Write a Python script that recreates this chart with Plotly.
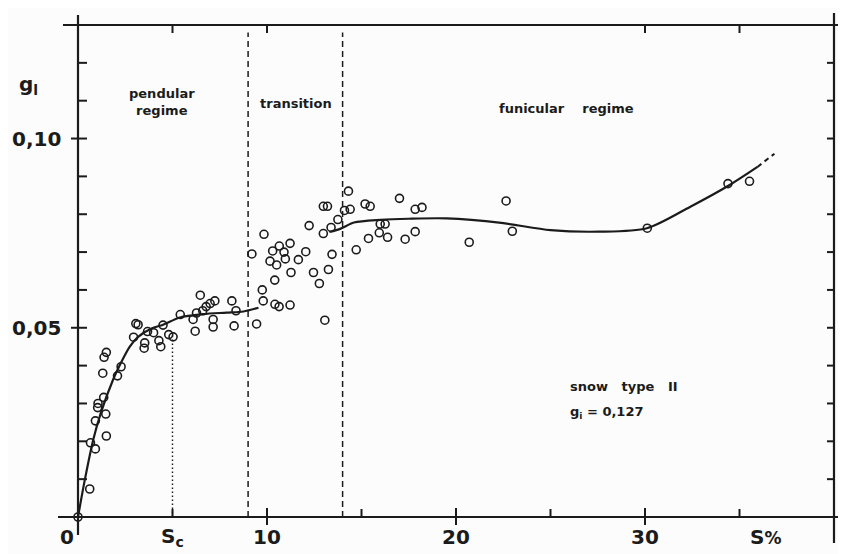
import plotly.graph_objects as go

# ---------------- data ----------------
pend_x = [0, 0.62, 0.66, 0.92, 0.92, 1.04, 1.06, 1.36, 1.47, 1.5, 1.31, 1.38, 1.5, 2.09, 2.28,
          2.94, 3.06, 3.18, 3.5, 3.53, 3.68, 4.0, 4.28, 4.38, 4.5, 4.8, 5.03, 5.41, 6.09, 6.2,
          6.27, 6.47, 6.6, 6.78, 6.99, 7.24, 7.15, 7.15, 8.14, 8.36, 8.26, 9.45]
pend_y = [0, 0.0074, 0.0196, 0.018, 0.0254, 0.0289, 0.030, 0.0316, 0.0272, 0.0214, 0.038, 0.0422, 0.0435, 0.0373, 0.0397,
          0.0475, 0.0511, 0.0508, 0.0446, 0.046, 0.049, 0.0487, 0.0466, 0.045, 0.0507, 0.0482, 0.0476, 0.0535, 0.0522, 0.0491,
          0.0539, 0.0586, 0.0545, 0.0556, 0.0564, 0.0571, 0.0522, 0.0502, 0.0571, 0.0545, 0.0505, 0.051]

trans_x = [9.2, 9.84, 9.75, 9.8, 10.42, 10.64, 11.22, 10.41, 10.16, 10.3, 10.51, 10.65, 10.9, 10.97,
           11.22, 11.27, 11.66, 12.05, 12.23, 12.46, 12.77, 13.06, 12.98, 12.98, 13.2, 13.25, 13.44, 13.39, 13.75]
trans_y = [0.0695, 0.0747, 0.060, 0.0571, 0.0562, 0.0556, 0.056, 0.0626, 0.0676, 0.0703, 0.0666, 0.0716, 0.070, 0.0682,
           0.0723, 0.0646, 0.068, 0.0701, 0.077, 0.0646, 0.0617, 0.052, 0.0749, 0.0821, 0.0821, 0.0654, 0.0694, 0.0765, 0.0786]

fun_x = [14.1, 14.4, 14.31, 14.72, 15.19, 15.46, 17.01, 17.84, 18.2, 15.99, 16.25, 15.94, 16.38, 15.37,
         17.31, 17.84, 20.7, 22.65, 22.98, 30.12, 34.39, 35.53]
fun_y = [0.081, 0.0813, 0.0861, 0.0706, 0.0827, 0.0821, 0.0842, 0.0813, 0.0818, 0.0774, 0.0774, 0.0751, 0.0739, 0.0736,
         0.0734, 0.0754, 0.0726, 0.0835, 0.0755, 0.0763, 0.0881, 0.0887]

# fitted curves
curve_pend_x = [0, 0.36, 0.8, 1.2, 1.85, 2.26, 2.74, 3.18, 3.89, 4.5, 5.39, 6.62, 7.86, 8.75, 9.55]
curve_pend_y = [0, 0.0098, 0.0203, 0.0274, 0.0362, 0.0406, 0.045, 0.0476, 0.0498, 0.0508, 0.0527, 0.0536, 0.054, 0.0543, 0.0553]
curve_fun_x = [13.3, 13.9, 14.6, 16.0, 17.5, 19.5, 22.4, 25.0, 27.6, 30.1, 32.4, 34.5, 35.95]
curve_fun_y = [0.0753, 0.0762, 0.0778, 0.0785, 0.0788, 0.0789, 0.0777, 0.0758, 0.0754, 0.0763, 0.082, 0.0878, 0.0925]
curve_ext_x = [35.95, 36.85]
curve_ext_y = [0.0925, 0.0960]

# regime boundaries
boundary_x = [9, 14]
boundary_top = 0.128
sc_x = 5
sc_top = 0.0486

# axes
x_range = [0, 40]
y_range = [0, 0.13]
x_major = [10, 20, 30]
x_major_labels = ["10", "20", "30"]
x_minor = [5, 15, 25, 35]
x_top_ticks = [5, 10, 30, 35]
y_major = [0.05, 0.10]
y_major_labels = ["0,05", "0,10"]
y_minor = [0.01, 0.02, 0.03, 0.04, 0.06, 0.07, 0.08, 0.09, 0.11, 0.12]

# ---------------- figure ----------------
# the page body has an 8px margin, so the figure is 8px smaller than the window
W, H = 838, 546
ML, MR, MT, MB = 70, 12, 17, 37
PW, PH = W - ML - MR, H - MT - MB
INK = "#1b1b1b"
FONT = "DejaVu Sans"
NB = "\u00a0"


def dx(px):  # pixel offset -> x domain fraction
    return px / PW


def dy(px):
    return px / PH


fig = go.Figure()

marker = dict(symbol="circle-open", size=8, color=INK, line=dict(width=1.6, color=INK))
for xs, ys in [(pend_x, pend_y), (trans_x, trans_y), (fun_x, fun_y)]:
    fig.add_trace(go.Scatter(x=xs, y=ys, mode="markers", marker=marker, showlegend=False,
                             cliponaxis=False))

line = dict(color=INK, width=2.2, shape="spline", smoothing=0.8)
fig.add_trace(go.Scatter(x=curve_pend_x, y=curve_pend_y, mode="lines", line=line, showlegend=False))
fig.add_trace(go.Scatter(x=curve_fun_x, y=curve_fun_y, mode="lines", line=line, showlegend=False))
fig.add_trace(go.Scatter(x=curve_ext_x, y=curve_ext_y, mode="lines",
                         line=dict(color=INK, width=2, dash="5px,4px"), showlegend=False))

for bx in boundary_x:
    fig.add_trace(go.Scatter(x=[bx, bx], y=[0, boundary_top], mode="lines",
                             line=dict(color=INK, width=1.5, dash="6px,4px"), showlegend=False))
fig.add_trace(go.Scatter(x=[sc_x, sc_x], y=[0, sc_top], mode="lines",
                         line=dict(color=INK, width=1.4, dash="1.5px,2.5px"), showlegend=False))

shapes = []
lw = 2.2


def seg(x0, y0, x1, y1, w=lw):
    shapes.append(dict(type="line", xref="x domain", yref="y domain", x0=x0, y0=y0, x1=x1, y1=y1,
                       line=dict(color=INK, width=w)))


# frame
seg(0, dy(-18), 0, 1 + dy(10))          # left
seg(dx(-20), 0, 1 + dx(12), 0)          # bottom
seg(1, dy(-26), 1, 1 + dy(12))          # right
seg(dx(-15), 1, 1 + dx(12), 1)          # top

xs_of = lambda v: (v - x_range[0]) / (x_range[1] - x_range[0])
ys_of = lambda v: (v - y_range[0]) / (y_range[1] - y_range[0])

for v in x_minor:
    seg(xs_of(v), 0, xs_of(v), dy(8), 2)
for v in x_major:
    seg(xs_of(v), dy(-8), xs_of(v), dy(9), 2)
for v in x_top_ticks:
    seg(xs_of(v), 1, xs_of(v), 1 - dy(8), 2)
for v in y_minor:
    seg(0, ys_of(v), dx(9), ys_of(v), 2)
for v in y_major:
    seg(dx(-7), ys_of(v), dx(9), ys_of(v), 2)
for v in y_minor + y_major:
    seg(1, ys_of(v), 1 - dx(7), ys_of(v), 2)

ann = []
big = dict(family=FONT, size=20, color=INK, weight="bold")
mid = dict(family=FONT, size=13, color=INK, weight="bold")

for v, t in zip(y_major, y_major_labels):
    ann.append(dict(x=0, y=v, xref="x domain", yref="y", text=t, showarrow=False, xanchor="right",
                    yanchor="middle", xshift=-15, font=big))
for v, t in zip(x_major, x_major_labels):
    ann.append(dict(x=v, y=0, xref="x", yref="y domain", text=t, showarrow=False, xanchor="center",
                    yanchor="top", yshift=-6, font=big))
ann.append(dict(x=0, y=0, xref="x", yref="y domain", text="0", showarrow=False, xanchor="center",
                yanchor="top", yshift=-6, xshift=-11, font=big))
ann.append(dict(x=sc_x, y=0, xref="x", yref="y domain", text="S<sub>c</sub>", showarrow=False,
                xanchor="center", yanchor="top", yshift=-5, font=big))
ann.append(dict(x=35, y=0, xref="x", yref="y domain", text="S<span style='font-size:17px'>%</span>",
                showarrow=False, xanchor="center", yanchor="top", yshift=-6, xshift=26, font=big))
ann.append(dict(x=0, y=1, xref="x domain", yref="y domain", text="g<sub>l</sub>", showarrow=False,
                xanchor="center", yanchor="middle", xshift=-50, yshift=-60, font=big))

ann.append(dict(x=4.46, y=0.1096, text="pendular<br>regime", showarrow=False, font=mid,
                xanchor="center", yanchor="middle"))
ann.append(dict(x=11.55, y=0.1093, text="transition", showarrow=False, font=mid,
                xanchor="center", yanchor="middle"))
ann.append(dict(x=25.85, y=0.108, text="funicular" + NB * 4 + "regime", showarrow=False, font=mid,
                xanchor="center", yanchor="middle"))
ann.append(dict(x=25.9, y=0.0346, text="snow" + NB * 3 + "type" + NB * 3 + "II", showarrow=False, font=mid,
                xanchor="left", yanchor="middle"))
ann.append(dict(x=25.9, y=0.0277, text="g<sub>i</sub>" + NB + "=" + NB + "0,127", showarrow=False, font=mid,
                xanchor="left", yanchor="middle"))

fig.update_layout(
    width=W, height=H,
    margin=dict(l=ML, r=MR, t=MT, b=MB, pad=0),
    paper_bgcolor="#fcfcfc", plot_bgcolor="#fcfcfc",
    xaxis=dict(range=x_range, showgrid=False, zeroline=False, showline=False, showticklabels=False,
               ticks="", fixedrange=True),
    yaxis=dict(range=y_range, showgrid=False, zeroline=False, showline=False, showticklabels=False,
               ticks="", fixedrange=True),
    shapes=shapes,
    annotations=ann,
    showlegend=False,
)

fig.write_html("out.html")
